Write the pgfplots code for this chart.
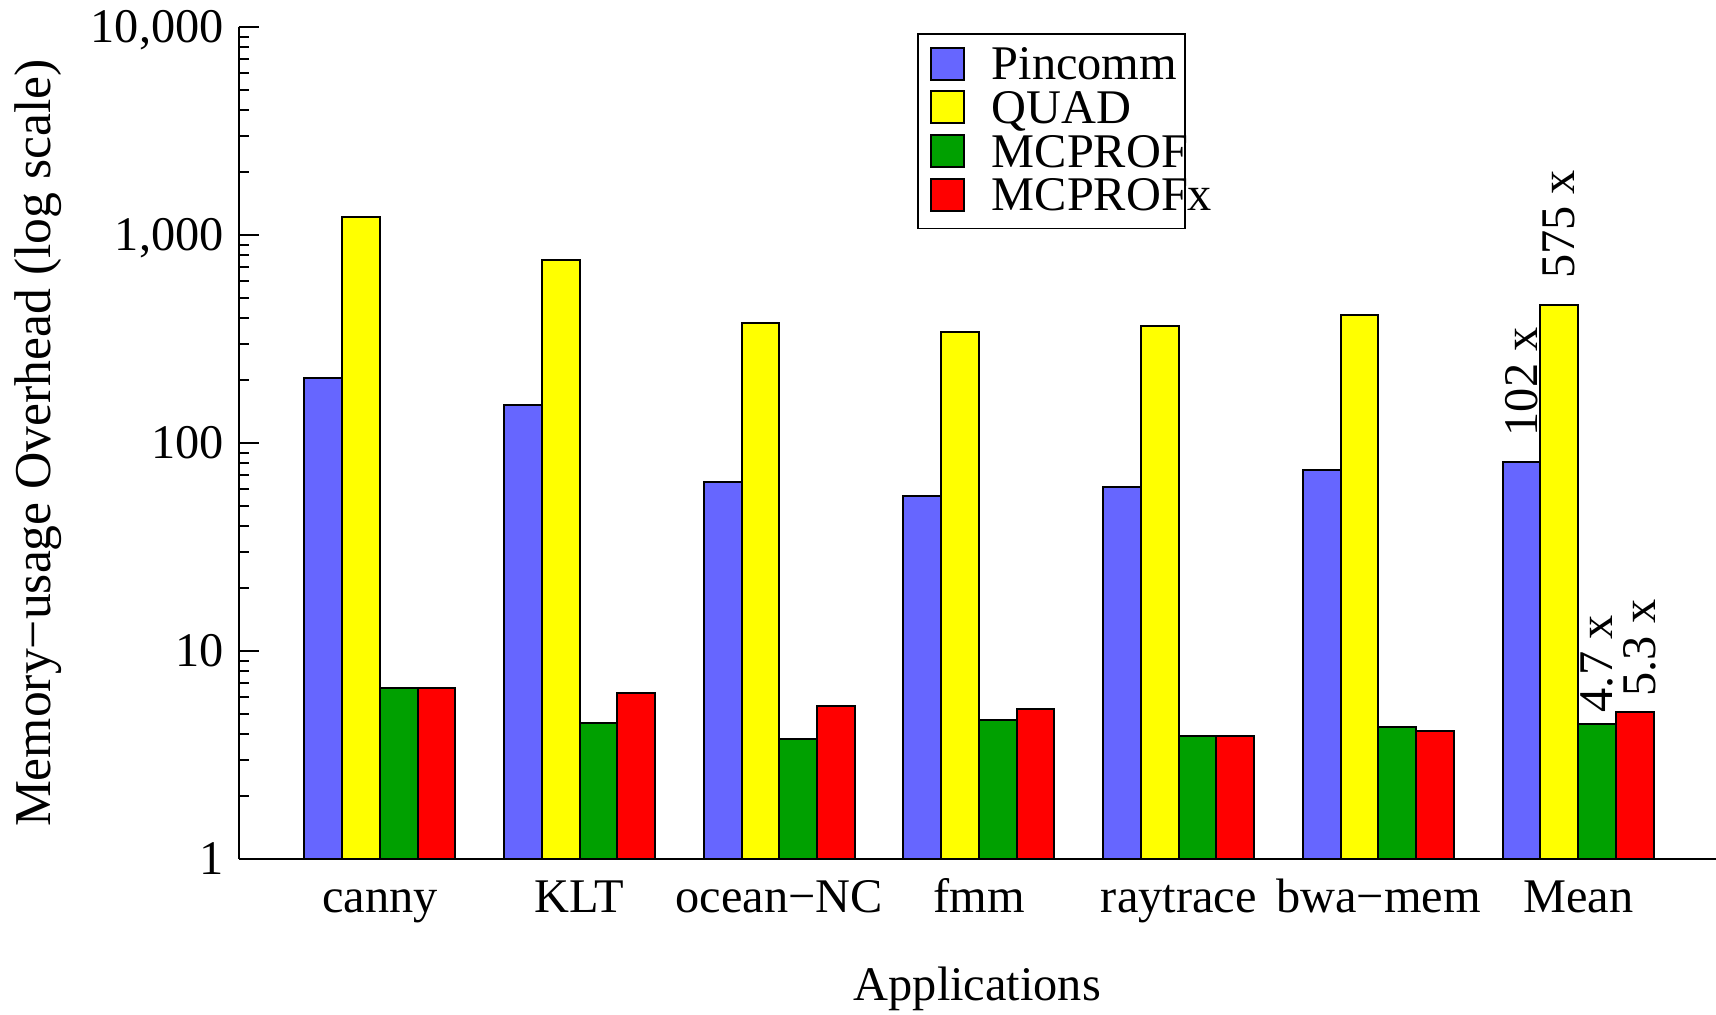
\documentclass[border=0pt]{standalone}
\usepackage{pgfplots}
\pgfplotsset{compat=1.18}
\usepackage{fontspec}
\setmainfont{Liberation Serif}
\definecolor{cblue}{RGB}{102,102,255}
\definecolor{cyellow}{RGB}{255,255,0}
\definecolor{cgreen}{RGB}{0,160,0}
\definecolor{cred}{RGB}{255,0,0}
\begin{document}
\fontsize{14.5}{17}\selectfont
\begin{tikzpicture}
\begin{axis}[
  at={(0pt,0pt)}, anchor=south west,
  scale only axis, width=443.2pt, height=249.6pt,
  ymode=log, ymin=1, ymax=10000,
  xmin=-0.7066, xmax=6.69,
  ybar, bar width=0.189,
  axis x line=bottom, axis y line=left,
  axis line style={-, line width=0.6pt},
  ytick={1,10,100,1000,10000},
  yticklabels={1,10,100,{1,000},{10,000}},
  minor ytick={2,3,4,5,6,7,8,9,20,30,40,50,60,70,80,90,200,300,400,500,600,700,800,900,2000,3000,4000,5000,6000,7000,8000,9000},
  tick align=inside, major tick length=6pt, minor tick length=3pt,
  tick style={line width=0.6pt, black},
  xtick={0,1,2,3,4,5,6}, xtick style={draw=none},
  xticklabels={canny,KLT,ocean−NC,fmm,raytrace,bwa−mem,Mean},
  xticklabel style={anchor=north, inner sep=0pt, yshift=-5.9pt, text height=10pt, text depth=3pt},
  yticklabel style={anchor=east, inner sep=0pt, xshift=-4.3pt, text height=9.6pt, text depth=0pt},
  /pgf/number format/assume math mode=true,
  xlabel={Applications},
  ylabel={Memory−usage Overhead (log scale)},
  xlabel style={at={(axis description cs:0.5,-0.131)}, anchor=north, inner sep=0pt, text height=9.6pt, text depth=0pt},
  ylabel style={at={(axis description cs:-0.1275,0.5)}, anchor=base, inner sep=0pt, font=\fontsize{15.5}{18}\selectfont},
  legend style={at={(0.4592,0.9928)}, anchor=north west, draw=black, line width=0.5pt,
    inner xsep=3.6pt, inner ysep=3pt, row sep=0pt, column sep=0pt,
    nodes={inner sep=0pt, text height=10.8pt, text depth=2.3pt, anchor=base west}},
  legend cell align=left,
  legend image code/.code={\draw[#1, draw=black, line width=0.6pt] (0pt,0pt) rectangle (9.9pt,9.6pt); \path[draw=none, fill=none] (0pt,0pt) -- (18.3pt,0pt);},
]
\addplot[fill=cblue, draw=black, line width=0.6pt, bar shift=-0.2835] coordinates {(0,205) (1,153) (2,64.7) (3,55.9) (4,61.7) (5,74.1) (6,80.9)};
\addplot[fill=cyellow, draw=black, line width=0.6pt, bar shift=-0.0945] coordinates {(0,1214) (1,757) (2,379) (3,340) (4,366) (5,413) (6,460)};
\addplot[fill=cgreen, draw=black, line width=0.6pt, bar shift=0.0945] coordinates {(0,6.62) (1,4.49) (2,3.79) (3,4.66) (4,3.92) (5,4.31) (6,4.47)};
\addplot[fill=cred, draw=black, line width=0.6pt, bar shift=0.2835] coordinates {(0,6.62) (1,6.31) (2,5.45) (3,5.26) (4,3.92) (5,4.11) (6,5.09)};
\legend{\makebox[54.3pt][l]{Pincomm},\makebox[54.3pt][l]{QUAD},\makebox[54.3pt][l]{MCPROF},\makebox[54.3pt][l]{MCPROFx}}
\node[rotate=90, anchor=west, inner sep=0pt] at (axis cs:5.7165,107) {102 x};
\node[rotate=90, anchor=west, inner sep=0pt] at (axis cs:5.9055,610) {575 x};
\node[rotate=90, anchor=west, inner sep=0pt] at (axis cs:6.0945,5.04) {4.7 x};
\node[rotate=90, anchor=west, inner sep=0pt] at (axis cs:6.31,6.0) {5.3 x};
\end{axis}
\pgfresetboundingbox
\useasboundingbox (-71.6pt,-46.8pt) rectangle (443.2pt,257.7pt);
\end{tikzpicture}
\end{document}
